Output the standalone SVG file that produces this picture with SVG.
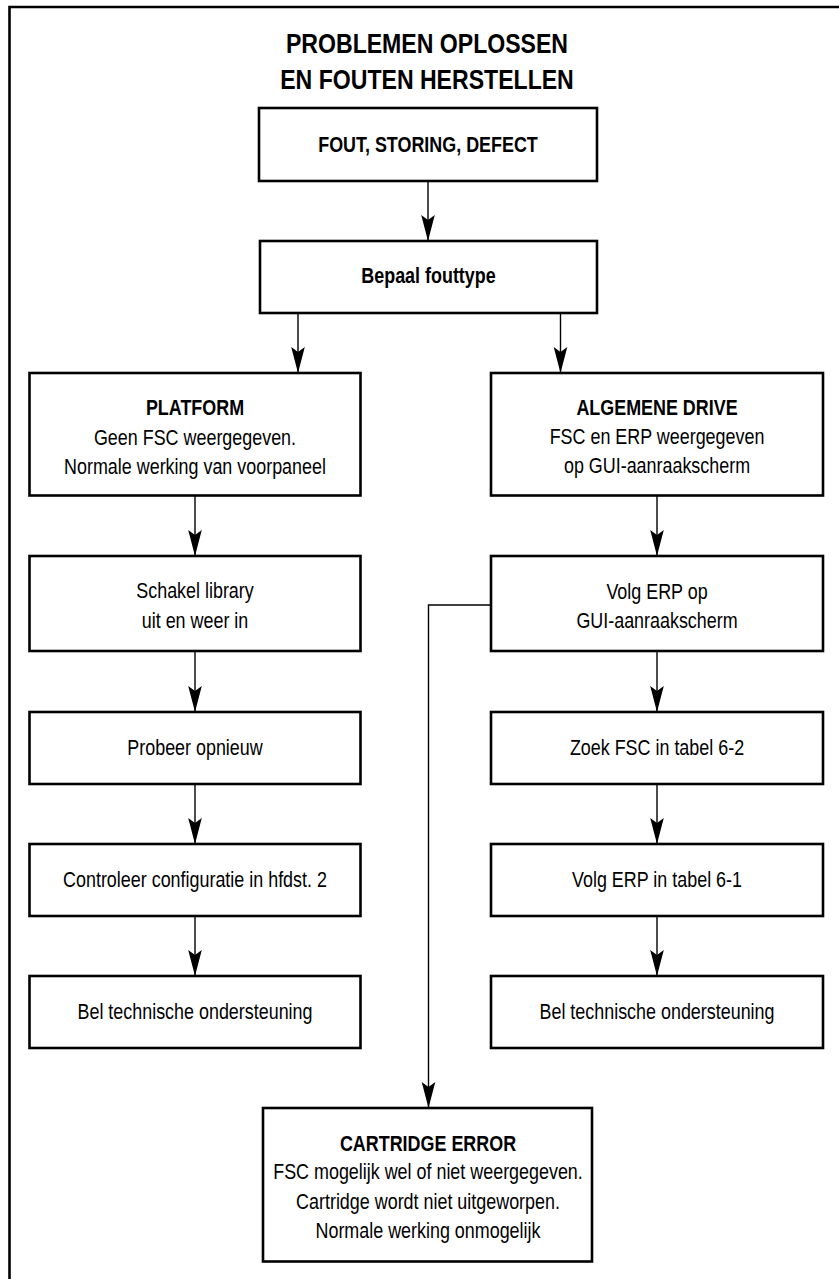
<svg xmlns="http://www.w3.org/2000/svg" width="839" height="1279" viewBox="0 0 839 1279">
<style>
.box{fill:#fff;stroke:#000;stroke-width:2.6}
.frame{fill:none;stroke:#000;stroke-width:2.6}
.con{fill:none;stroke:#000;stroke-width:1.4}
text{font-family:"Liberation Sans",Arial,Helvetica,sans-serif;font-size:22px;fill:#000;text-anchor:middle}
.b{font-weight:bold}
.title{font-weight:bold;font-size:28.5px}
</style>
<defs>
<marker id="arr" markerUnits="userSpaceOnUse" markerWidth="30" markerHeight="16" viewBox="-28 -8 30 16" refX="0" refY="0" orient="auto">
<path d="M0,0 L-26,-6.8 L-21,0 L-26,6.8 Z" fill="#000"/>
</marker>
</defs>
<rect width="839" height="1279" fill="#fff"/>
<path class="frame" d="M9.5,1279 V7 H839"/>
<g id="title">
<text class="title" transform="translate(427,53) scale(0.81,1)">PROBLEMEN OPLOSSEN</text>
<text class="title" transform="translate(427,88.5) scale(0.81,1)">EN FOUTEN HERSTELLEN</text>
</g>
<g id="connectors">
<path class="con" marker-end="url(#arr)" d="M428,181 V241"/>
<path class="con" marker-end="url(#arr)" d="M298,313 V373"/>
<path class="con" marker-end="url(#arr)" d="M560.5,313 V373"/>
<path class="con" marker-end="url(#arr)" d="M195,495.5 V556"/>
<path class="con" marker-end="url(#arr)" d="M195,651 V712"/>
<path class="con" marker-end="url(#arr)" d="M195,784 V844"/>
<path class="con" marker-end="url(#arr)" d="M195,916 V976"/>
<path class="con" marker-end="url(#arr)" d="M657,495.5 V556"/>
<path class="con" marker-end="url(#arr)" d="M657,651 V712"/>
<path class="con" marker-end="url(#arr)" d="M657,784 V844"/>
<path class="con" marker-end="url(#arr)" d="M657,916 V976"/>
<path class="con" marker-end="url(#arr)" d="M491,605 H428.5 V1108"/>
</g>
<g id="fout">
<rect class="box" x="259" y="108" width="338" height="73"/>
<text class="b" transform="translate(428,151.5) scale(0.815,1)">FOUT, STORING, DEFECT</text>
</g>
<g id="bepaal">
<rect class="box" x="260" y="241" width="337" height="72"/>
<text class="b" transform="translate(428.5,282.5) scale(0.815,1)">Bepaal fouttype</text>
</g>
<g id="platform">
<rect class="box" x="29.5" y="373" width="331" height="122.5"/>
<text class="b" transform="translate(195,415) scale(0.815,1)">PLATFORM</text>
<text transform="translate(195,444.5) scale(0.815,1)">Geen FSC weergegeven.</text>
<text transform="translate(195,473.5) scale(0.815,1)">Normale werking van voorpaneel</text>
</g>
<g id="algemene">
<rect class="box" x="491" y="373" width="332" height="122.5"/>
<text class="b" transform="translate(657,415) scale(0.815,1)">ALGEMENE DRIVE</text>
<text transform="translate(657,444) scale(0.815,1)">FSC en ERP weergegeven</text>
<text transform="translate(657,472.5) scale(0.815,1)">op GUI-aanraakscherm</text>
</g>
<g id="schakel">
<rect class="box" x="29.5" y="556" width="331" height="95"/>
<text transform="translate(195,598) scale(0.815,1)">Schakel library</text>
<text transform="translate(195,627.5) scale(0.815,1)">uit en weer in</text>
</g>
<g id="volg-erp-gui">
<rect class="box" x="491" y="556" width="332" height="95"/>
<text transform="translate(657,598.5) scale(0.815,1)">Volg ERP op</text>
<text transform="translate(657,627.5) scale(0.815,1)">GUI-aanraakscherm</text>
</g>
<g id="probeer">
<rect class="box" x="29.5" y="712" width="331" height="72"/>
<text transform="translate(195,754.5) scale(0.815,1)">Probeer opnieuw</text>
</g>
<g id="zoek">
<rect class="box" x="491" y="712" width="332" height="72"/>
<text transform="translate(657,755) scale(0.815,1)">Zoek FSC in tabel 6-2</text>
</g>
<g id="controleer">
<rect class="box" x="29.5" y="844" width="331" height="72"/>
<text transform="translate(195,886.5) scale(0.815,1)">Controleer configuratie in hfdst. 2</text>
</g>
<g id="volg-erp-tabel">
<rect class="box" x="491" y="844" width="332" height="72"/>
<text transform="translate(657,886.5) scale(0.815,1)">Volg ERP in tabel 6-1</text>
</g>
<g id="bel-left">
<rect class="box" x="29.5" y="976" width="331" height="72"/>
<text transform="translate(195,1018.5) scale(0.815,1)">Bel technische ondersteuning</text>
</g>
<g id="bel-right">
<rect class="box" x="491" y="976" width="332" height="72"/>
<text transform="translate(657,1018.5) scale(0.815,1)">Bel technische ondersteuning</text>
</g>
<g id="cartridge">
<rect class="box" x="263" y="1108" width="329" height="153.5"/>
<text class="b" transform="translate(428,1150.5) scale(0.815,1)">CARTRIDGE ERROR</text>
<text transform="translate(428,1179) scale(0.815,1)">FSC mogelijk wel of niet weergegeven.</text>
<text transform="translate(428,1208.5) scale(0.815,1)">Cartridge wordt niet uitgeworpen.</text>
<text transform="translate(428,1237.5) scale(0.815,1)">Normale werking onmogelijk</text>
</g>
</svg>
